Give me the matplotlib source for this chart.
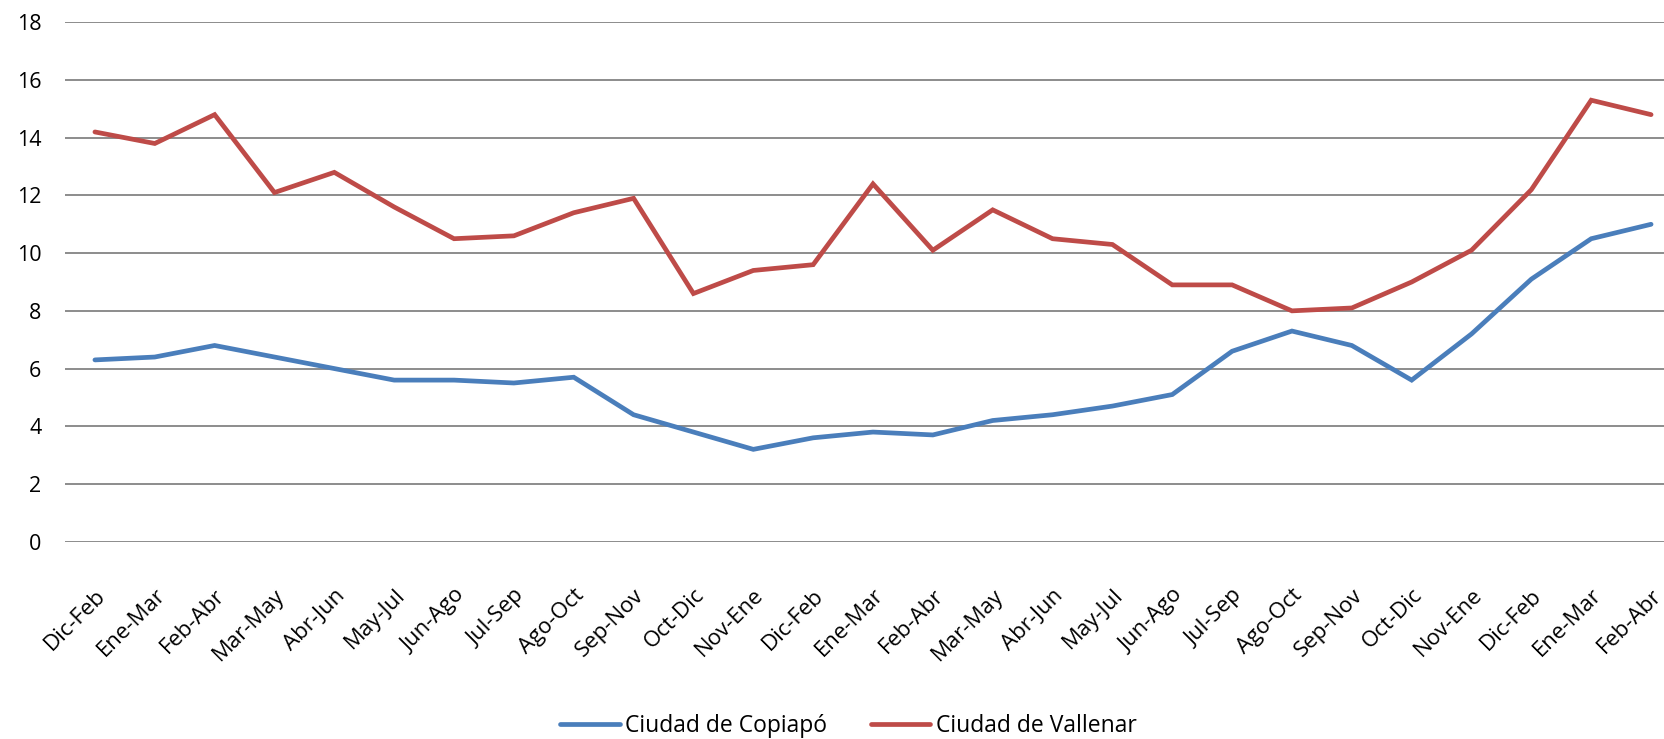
#Copiapo / Vallenar line chart

#imports
import matplotlib
matplotlib.use('Agg')
import matplotlib.pyplot as plt
from matplotlib.transforms import ScaledTranslation


#data
periods = ['Dic-Feb', 'Ene-Mar', 'Feb-Abr', 'Mar-May', 'Abr-Jun', 'May-Jul', 'Jun-Ago',
           'Jul-Sep', 'Ago-Oct', 'Sep-Nov', 'Oct-Dic', 'Nov-Ene', 'Dic-Feb', 'Ene-Mar',
           'Feb-Abr', 'Mar-May', 'Abr-Jun', 'May-Jul', 'Jun-Ago', 'Jul-Sep', 'Ago-Oct',
           'Sep-Nov', 'Oct-Dic', 'Nov-Ene', 'Dic-Feb', 'Ene-Mar', 'Feb-Abr']

copiapo = [6.3, 6.4, 6.8, 6.4, 6.0, 5.6, 5.6, 5.5, 5.7, 4.4, 3.8, 3.2, 3.6, 3.8,
           3.7, 4.2, 4.4, 4.7, 5.1, 6.6, 7.3, 6.8, 5.6, 7.2, 9.1, 10.5, 11.0]

vallenar = [14.2, 13.8, 14.8, 12.1, 12.8, 11.6, 10.5, 10.6, 11.4, 11.9, 8.6, 9.4, 9.6, 12.4,
            10.1, 11.5, 10.5, 10.3, 8.9, 8.9, 8.0, 8.1, 9.0, 10.1, 12.2, 15.3, 14.8]

y_ticks = [0, 2, 4, 6, 8, 10, 12, 14, 16, 18]


#figure
plt.rcParams['font.family'] = ['Open Sans', 'DejaVu Sans']
fig = plt.figure(figsize=(16.64, 7.39), dpi=100)
ax = fig.add_axes([65/1664, 1 - 541.7/739, 1616/1664, 519.4/739])

x = list(range(len(periods)))
ax.plot(x, copiapo, color='#4A7EBB', lw=3.4, solid_capstyle='round',
        solid_joinstyle='miter', label='Ciudad de Copiapó', zorder=3)
ax.plot(x, vallenar, color='#BE4B48', lw=3.4, solid_capstyle='round',
        solid_joinstyle='miter', label='Ciudad de Vallenar', zorder=3)


#axes
ax.set_xlim(-0.5, len(periods) - 0.5)
ax.set_ylim(0, 18)
ax.set_yticks(y_ticks)
ax.set_yticklabels([str(v) for v in y_ticks], fontsize=15.5)
ax.set_xticks(x)
ax.set_xticklabels(periods, fontsize=16, rotation=45, ha='right', va='top',
                   rotation_mode='anchor')
offset = ScaledTranslation(4/100, 0, fig.dpi_scale_trans)
for label in ax.get_xticklabels():
    label.set_transform(label.get_transform() + offset)

ax.tick_params(axis='both', length=0)
ax.tick_params(axis='y', pad=17)
ax.tick_params(axis='x', pad=31)
for side in ['top', 'right', 'left', 'bottom']:
    ax.spines[side].set_visible(False)
ax.grid(axis='y', color='#8C8C8C', lw=1.4, zorder=0)
ax.set_axisbelow(True)


#legend
fig.legend(loc='center', bbox_to_anchor=(848.5/1664, 13/739), ncol=2, frameon=False,
           fontsize=16.5, handlelength=2.6, handletextpad=0.25, columnspacing=1.9)

fig.savefig('out.png', dpi=100)
